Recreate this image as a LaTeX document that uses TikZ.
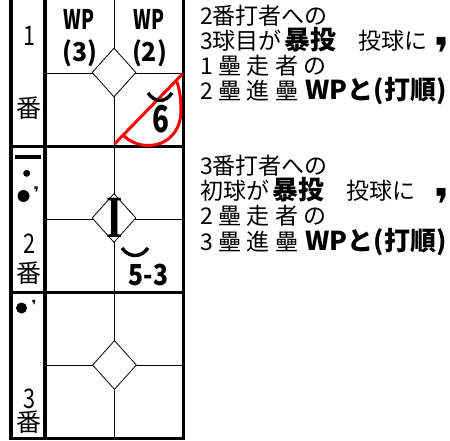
\documentclass[tikz,border=0pt]{standalone}
\usepackage{fontspec}
\usepackage{graphicx}
\newfontfamily\jp{Noto Sans CJK JP}
\newfontfamily\dv{DejaVu Sans}
\newfontfamily\ls{Liberation Serif}
\usetikzlibrary{shapes.geometric}
\newcommand\hsc[2]{\scalebox{#1}[1]{#2}}
\newcommand\bx[1]{{\bfseries\fontsize{26}{26}\selectfont #1}}
\newcommand\ks{\hspace{5.5pt}}
\begin{document}
\begin{tikzpicture}[x=1pt,y=-1pt,
  frm/.style={line width=3.6pt},
  gridln/.style={line width=0.9pt},
  plate/.style={draw, line width=0.8pt, fill=white, shape=diamond, inner sep=0pt, minimum width=44pt, minimum height=49pt},
  redmk/.style={red, line width=3pt},
  inkln/.style={line width=3.4pt},
  lab/.style={inner sep=0pt},
  txt/.style={inner sep=0pt, anchor=base west, font=\jp\fontsize{23}{23}\selectfont}]
\useasboundingbox (0,0) rectangle (450,441);
% thin grid lines
\coordinate (vt) at (114,0);
\coordinate (vb) at (114,438.5);
\draw[gridln] (vt) -- (vb);
\foreach \yy/\nm in {73/h1,219/h2,365/h3}{
  \coordinate (\nm l) at (45,\yy);
  \coordinate (\nm r) at (183.5,\yy);
  \draw[gridln] (\nm l) -- (\nm r);
}
% bases
\node[plate] (p1) at (114,72.5) {};
\node[plate] (p2) at (114,218) {};
\node[plate] (p3) at (114.5,365) {};
% frame
\coordinate (tl) at (11,-2);
\coordinate (bl) at (11,438.5);
\coordinate (br) at (183.5,438.5);
\coordinate (tr) at (183.5,-2);
\coordinate (ct) at (45,-2);
\coordinate (cb) at (45,438.5);
\draw[frm] (tl) -- (bl) -- (br) -- (tr);
\draw[frm] (ct) -- (cb);
\coordinate (r1l) at (11,146.5);
\coordinate (r1r) at (183.5,146.5);
\coordinate (r2l) at (11,292.5);
\coordinate (r2r) at (183.5,292.5);
\draw[frm] (r1l) -- (r1r);
\draw[frm] (r2l) -- (r2r);
% row 1 labels
\node[lab, font=\jp\bfseries\fontsize{27}{27}\selectfont] (wpL) at (79,19) {\hsc{0.7}{WP}};
\node[lab, font=\jp\bfseries\fontsize{26}{26}\selectfont] (n3) at (80,53.5) {\hsc{0.95}{(3)}};
\node[lab, font=\jp\bfseries\fontsize{27}{27}\selectfont] (wpR) at (149,19) {\hsc{0.7}{WP}};
\node[lab, font=\jp\bfseries\fontsize{26}{26}\selectfont] (n2) at (149.5,53.5) {\hsc{0.95}{(2)}};
\node[lab, font=\jp\fontsize{27}{27}\selectfont] (o1) at (29,36) {\hsc{0.8}{1}};
\node[lab, font=\jp\fontsize{25}{25}\selectfont] (b1) at (29,108) {番};
% row 1 play
\coordinate (dgA) at (114.5,144);
\coordinate (dgB) at (182.5,74);
\draw[redmk] (dgA) -- (dgB);
\coordinate (arA) at (124,136);
\coordinate (arM) at (181,110);
\coordinate (arB) at (177,82);
\draw[redmk] (arA) .. controls (143,154) and (181,147) .. (arM) .. controls (181,97) and (179,88) .. (arB);
\coordinate (s1a) at (148,93);
\coordinate (s1b) at (172,93);
\draw[inkln] (s1a) .. controls (155,103) and (165,103) .. (s1b);
\node[lab, font=\jp\bfseries\fontsize{37}{37}\selectfont] (six) at (160.5,119.5) {\hsc{0.75}{6}};
% row 2 marks
\coordinate (barL) at (15,157);
\coordinate (barR) at (41,157);
\draw[line width=3.4pt] (barL) -- (barR);
\fill (26.7,173.3) circle (3.5);
\fill (23.5,196) circle (6);
\node[lab, font=\dv\bfseries\fontsize{16}{16}\selectfont] (q2) at (36.5,193) {❜};
\node[lab, font=\jp\fontsize{27}{27}\selectfont] (o2) at (29,243.5) {\hsc{0.8}{2}};
\node[lab, font=\jp\fontsize{25}{25}\selectfont] (b2) at (29,273) {番};
% row 2 play
\node[lab, font=\ls\bfseries\fontsize{60}{60}\selectfont] (err) at (114.5,217.5) {\hsc{0.7}{I}};
\coordinate (s2a) at (122,248);
\coordinate (s2b) at (148,248);
\draw[inkln] (s2a) .. controls (129,258) and (141,258) .. (s2b);
\node[lab, font=\jp\bfseries\fontsize{29}{29}\selectfont] (fc) at (148.5,275) {\hsc{0.85}{5-3}};
% row 3 marks
\fill (21.5,308) circle (5.5);
\node[lab, font=\dv\bfseries\fontsize{14}{14}\selectfont] (q3) at (34,305) {❜};
\node[lab, font=\jp\fontsize{27}{27}\selectfont] (o3) at (29,398.5) {\hsc{0.8}{3}};
\node[lab, font=\jp\fontsize{25}{25}\selectfont] (b3) at (29,422) {番};
% notes
\node[txt] (a1) at (200,25) {2番打者への};
\node[txt] (a2) at (200,50) {3球目が\hspace{3pt}\bx{暴投}\hspace{22pt}投球に};
\node[lab, anchor=base, font=\dv\bfseries\fontsize{44}{44}\selectfont] (qa) at (442,70) {❜};
\node[txt] (a3) at (200,75) {1\ks 壘\ks 走\ks 者\ks の};
\node[txt] (a4) at (200,100) {2\ks 壘\ks 進\ks 壘\hspace{7pt}\bx{WPと(打順)}};
\node[txt] (c1) at (200,175) {3番打者への};
\node[txt] (c2) at (200,200) {初球が\hspace{3pt}\bx{暴投}\hspace{22pt}投球に};
\node[lab, anchor=base, font=\dv\bfseries\fontsize{44}{44}\selectfont] (qc) at (442,220) {❜};
\node[txt] (c3) at (200,225) {2\ks 壘\ks 走\ks 者\ks の};
\node[txt] (c4) at (200,250) {3\ks 壘\ks 進\ks 壘\hspace{7pt}\bx{WPと(打順)}};
\end{tikzpicture}
\end{document}
